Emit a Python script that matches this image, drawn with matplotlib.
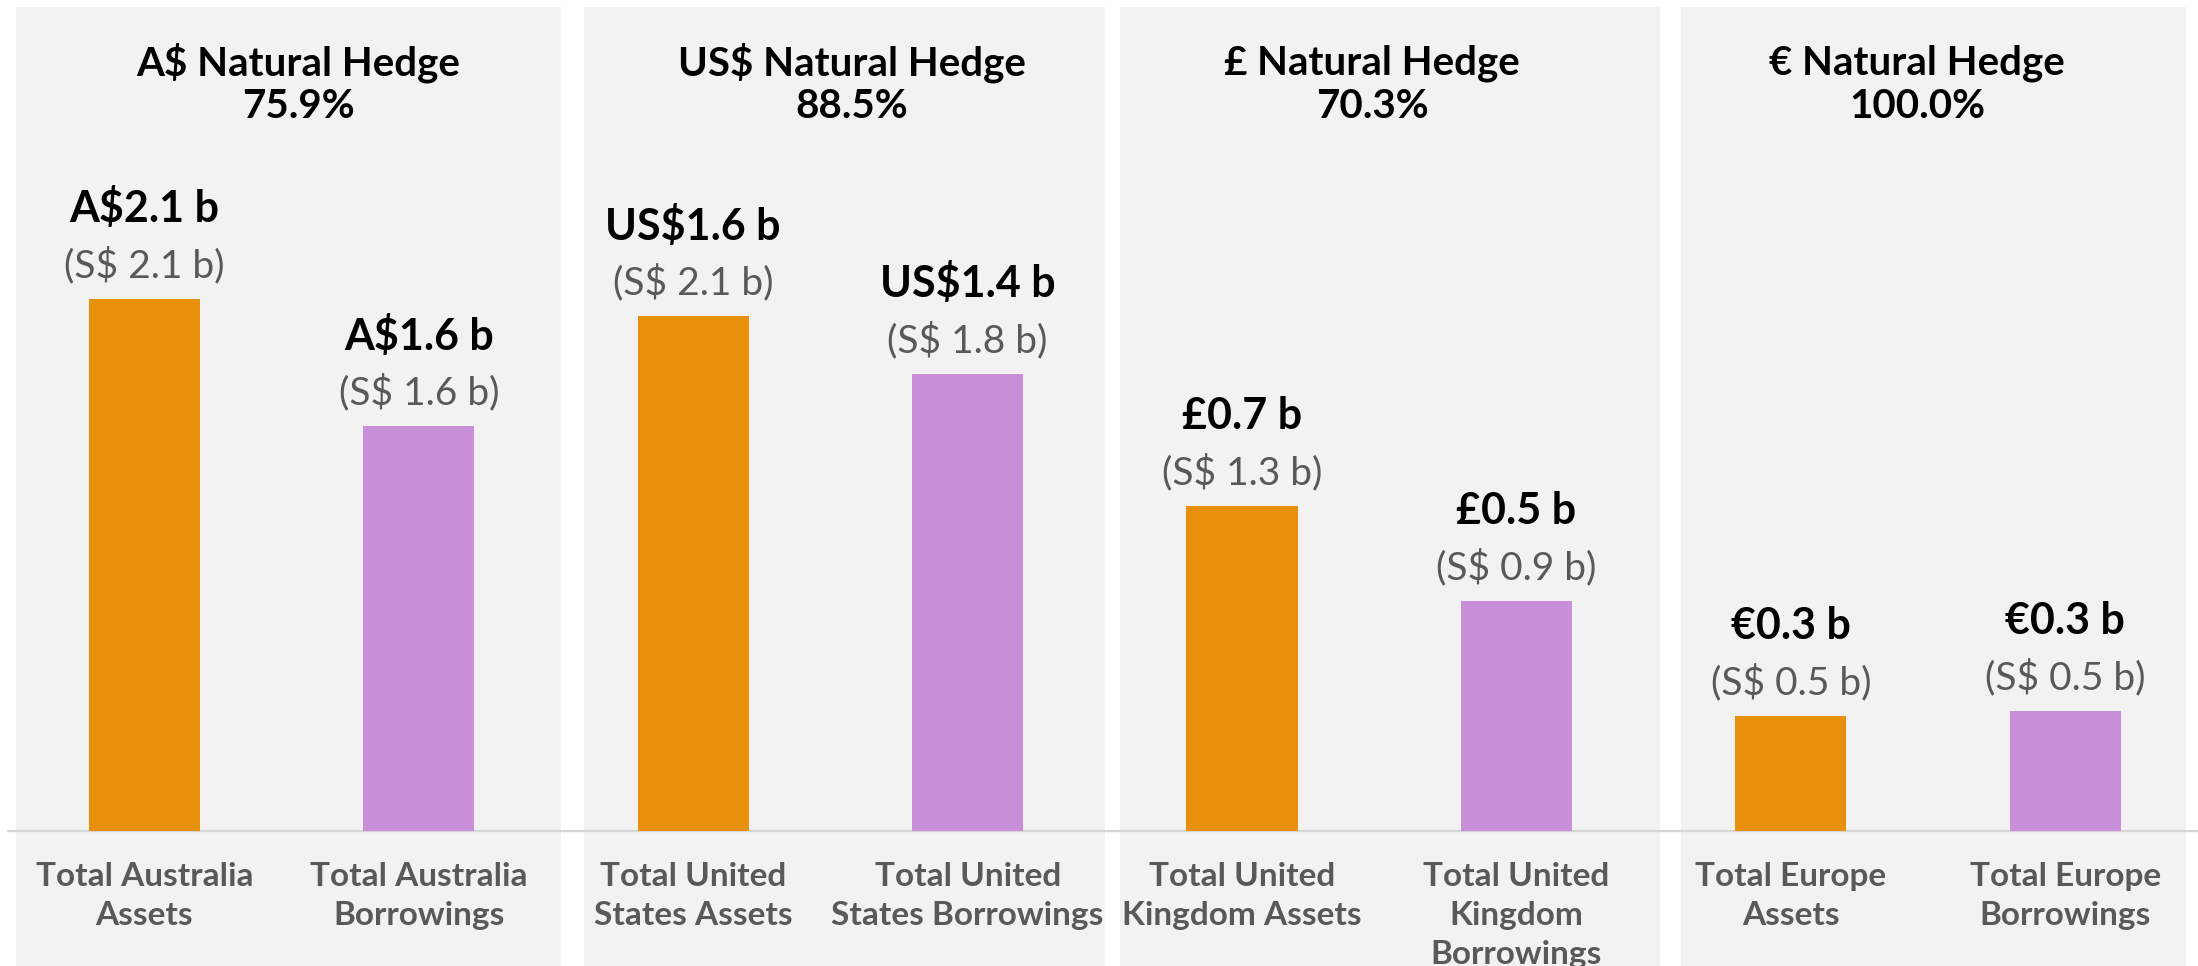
import numpy as np
import matplotlib
matplotlib.use("Agg")
import matplotlib.pyplot as plt
from matplotlib.patches import Rectangle

plt.rcParams['font.family'] = ['Lato', 'DejaVu Sans']

# data
categories = ["Total Australia\nAssets", "Total Australia\nBorrowings",
              "Total United\nStates Assets", "Total United\nStates Borrowings",
              "Total United\nKingdom Assets", "Total United\nKingdom\nBorrowings",
              "Total Europe\nAssets", "Total Europe\nBorrowings"]
sgd_values = [2.13, 1.62, 2.06, 1.83, 1.30, 0.92, 0.46, 0.48]
local_labels = ["A$2.1 b", "A$1.6 b", "US$1.6 b", "US$1.4 b",
                "£0.7 b", "£0.5 b", "€0.3 b", "€0.3 b"]
sgd_labels = ["(S$ 2.1 b)", "(S$ 1.6 b)", "(S$ 2.1 b)", "(S$ 1.8 b)",
              "(S$ 1.3 b)", "(S$ 0.9 b)", "(S$ 0.5 b)", "(S$ 0.5 b)"]
currencies = ["A$", "US$", "£", "€"]
hedge_pct = [75.9, 88.5, 70.3, 100.0]

ORANGE = "#E8900B"
PURPLE = "#C98FD8"
PANEL = "#F2F2F2"
GREY = "#595959"

W, H = 2198, 966
fig = plt.figure(figsize=(W / 100, H / 100), dpi=100)
fig.patch.set_facecolor("white")

# background panels (pixel extents)
panels = [(16, 561), (584, 1105), (1120, 1660), (1681, 2186)]
title_x = [298, 852, 1372, 1917]
for (x0, x1) in panels:
    fig.add_artist(Rectangle((x0 / W, 0), (x1 - x0) / W, (H - 7) / H,
                             transform=fig.transFigure, facecolor=PANEL,
                             edgecolor="none", zorder=-1))

ax = fig.add_axes([7 / W, 0, (W - 7) / W, 1])
ax.patch.set_alpha(0)
for s in ax.spines.values():
    s.set_visible(False)
ax.set_xticks([])
ax.set_yticks([])

x = np.arange(len(categories))
colors = [ORANGE, PURPLE] * 4
ax.bar(x, sgd_values, width=0.405, color=colors, zorder=3)
ax.axhline(0, color="#D6D6D6", lw=1.6, zorder=2)
ax.set_xlim(-0.501, 7.484)
ax.set_ylim(-0.54, 3.324)

for xi, v, loc, sgd, cat in zip(x, sgd_values, local_labels, sgd_labels, categories):
    ax.annotate(sgd, (xi, v), xytext=(0, 24), textcoords="offset points",
                ha="center", va="center", fontsize=28, color=GREY)
    ax.annotate(loc, (xi, v), xytext=(0, 65), textcoords="offset points",
                ha="center", va="center", fontsize=31, fontweight="bold",
                color="black")
    ax.annotate(cat, (xi, 0), xytext=(0, -22), textcoords="offset points",
                ha="center", va="top", fontsize=24, fontweight="bold",
                color=GREY, linespacing=1.42, annotation_clip=False)

for tx, cur, pct in zip(title_x, currencies, hedge_pct):
    fig.text(tx / W, 1 - 63 / H, f"{cur} Natural Hedge", ha="center",
             va="center", fontsize=29, fontweight="bold")
    fig.text(tx / W, 1 - 106.5 / H, f"{pct:.1f}%", ha="center",
             va="center", fontsize=29, fontweight="bold")

fig.savefig("out.png", dpi=100)
